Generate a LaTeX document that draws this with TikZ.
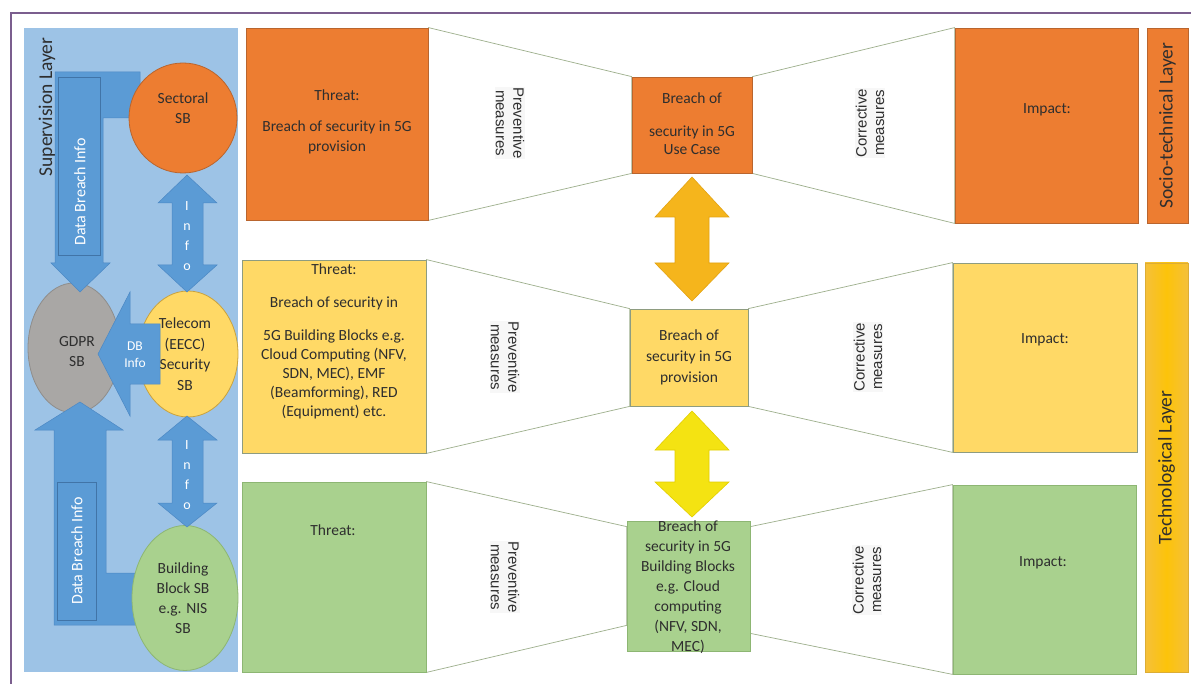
\documentclass[tikz,border=0pt]{standalone}
\usepackage{fontspec}
\setmainfont{Carlito}
\newfontfamily\measfont{Liberation Sans}
\usetikzlibrary{shapes.geometric,fit,calc}
\pgfdeclarelayer{back}
\pgfsetlayers{back,main}
\definecolor{panelB}{HTML}{9DC3E6}
\definecolor{arrowB}{HTML}{5B9BD5}
\definecolor{arrowD}{HTML}{4C88C4}
\definecolor{orangeF}{HTML}{ED7D31}
\definecolor{orangeD}{HTML}{B9652E}
\definecolor{yellowF}{HTML}{FFD966}
\definecolor{yellowD}{HTML}{8E9C80}
\definecolor{telD}{HTML}{C9A23E}
\definecolor{greenF}{HTML}{A9D18E}
\definecolor{greenD}{HTML}{8DB673}
\definecolor{grayF}{HTML}{A9A7A5}
\definecolor{grayD}{HTML}{8F8D8B}
\definecolor{trapC}{HTML}{9DAF8C}
\definecolor{txtC}{HTML}{2E2E2E}
\definecolor{frameC}{HTML}{7B5E8E}
\definecolor{goldF}{HTML}{F5B51C}
\definecolor{goldD}{HTML}{E3A312}
\definecolor{ylwF}{HTML}{F4E312}
\definecolor{ylwD}{HTML}{E2CE00}
\definecolor{techE}{HTML}{F5C03A}
\definecolor{techM}{HTML}{FCC30A}
\tikzset{
  box/.style={line width=0.8pt, inner sep=0pt},
  obox/.style={box, fill=orangeF, draw=orangeD},
  ybox/.style={box, fill=yellowF, draw=yellowD},
  gbox/.style={box, fill=greenF, draw=greenD},
  trap/.style={draw=trapC, line width=0.7pt, fill=white},
  ell/.style={ellipse, inner sep=0pt, line width=0.8pt},
  txt/.style={font=\fontsize{15.5}{20}\selectfont, text=txtC, align=center, inner sep=0pt},
  meas/.style={font=\measfont\fontsize{15}{17.5}\selectfont, text=txtC, align=center, fill=gray!6, inner sep=1pt},
  layer/.style={font=\fontsize{19.5}{22}\selectfont, text=txtC, rotate=90, inner sep=0pt},
  barrow/.style={fill=arrowB, draw=arrowD, line width=0.5pt},
  tbox/.style={fill=arrowB, draw=arrowD!85!black, line width=0.6pt, inner sep=0pt},
  wtxt/.style={text=white, font=\fontsize{16}{20}\selectfont, align=center, inner sep=0pt},
  goldarrow/.style={fill=goldF, draw=goldD, line width=0.6pt},
  ylwarrow/.style={fill=ylwF, draw=ylwD, line width=0.6pt},
}
\begin{document}
\begin{tikzpicture}[x=1pt,y=-1pt]
\useasboundingbox (0,0) rectangle (1191,684);
\begin{pgfonlayer}{back}
\fill[white] (0,0) rectangle (1191,684);
\end{pgfonlayer}
\draw[frameC, line width=1.3pt] (11,684) -- (11,13) -- (1191,13);

% ---------------- supervision layer ----------------
\node[fit={(24,28) (238,672)}, inner sep=0pt, fill=panelB] (panel) {};
\node[layer] (suplabel) at (47,107) {Supervision Layer};

\node[ell, fill=grayF, draw=grayD, minimum width=92pt, minimum height=130pt] (gdpr) at (74,348) {};
\node[ell, fill=yellowF, draw=telD, minimum width=100pt, minimum height=126pt] (telecom) at (188,354) {};

% L-shaped arrows (data breach info)
\draw[barrow] (140,72) -- (55,72) -- (55,263) -- (51,263) -- (80,292) -- (110,263) -- (103,263) -- (103,118) -- (140,118) -- cycle;
\node[tbox, fit={(58,77) (100,255)}] (dbbox1) {};
\node[wtxt, rotate=90] (dbi1) at (80,192) {Data Breach Info};

\draw[barrow] (140,573) -- (106,573) -- (106,430) -- (123,430) -- (80,402) -- (35,430) -- (54,430) -- (54,625) -- (140,625) -- cycle;
\node[tbox, fit={(57,482) (96,620)}] (dbbox2) {};
\node[wtxt, rotate=90] (dbi2) at (77,551) {Data Breach Info};

\node[ell, fill=orangeF, draw=orangeD, minimum width=108pt, minimum height=110pt] (sectoral) at (183,118) {};
\node[ell, fill=greenF, draw=greenD, minimum width=106pt, minimum height=145pt] (building) at (185,598) {};

% Info double arrows
\draw[barrow] (187,175) -- (217,203) -- (203,203) -- (203,265) -- (217,265) -- (187,292) -- (158,265) -- (172,265) -- (172,203) -- (158,203) -- cycle;
\node[wtxt, font=\fontsize{14}{20}\selectfont] (info1) at (187,236) {I\\n\\f\\o};
\draw[barrow] (187,416) -- (217,440) -- (203,440) -- (203,503) -- (217,503) -- (187,527) -- (158,503) -- (172,503) -- (172,440) -- (158,440) -- cycle;
\node[wtxt, font=\fontsize{14}{20}\selectfont] (info2) at (187,475) {I\\n\\f\\o};

% DB Info arrow
\draw[barrow] (98,354) -- (130,292) -- (130,324) -- (160,324) -- (160,384) -- (130,384) -- (130,416) -- cycle;
\node[wtxt, font=\fontsize{13.5}{17}\selectfont] (dbinfo) at (135,355) {DB\\Info};

% ellipse texts
\node[txt] (sectoralt) at (183,108) {Sectoral\\SB};
\node[txt] (gdprt) at (77,352) {GDPR\\SB};
\node[txt, font=\fontsize{15.5}{20.5}\selectfont] (telecomt) at (185,354) {Telecom\\(EECC)\\Security\\SB};
\node[txt] (buildingt) at (183,598) {Building\\Block SB\\e.g. NIS\\SB};

% ---------------- bow-tie rows ----------------
\node[obox, fit={(246,28) (428,220)}] (threat1) {};
\node[obox, fit={(632,77) (752,173)}] (mid1) {};
\node[obox, fit={(955,28) (1138,223)}] (impact1) {};

\node[ybox, fit={(242,260) (426,453)}] (threat2) {};
\node[ybox, fit={(630,309) (748,406)}] (mid2) {};
\node[ybox, fit={(953,263) (1137,452)}] (impact2) {};

\node[gbox, fit={(242,482) (426,672)}] (threat3) {};
\node[gbox, fit={(627,521) (750,651)}] (mid3) {};
\node[gbox, fit={(953,485) (1136,674)}] (impact3) {};

% trapezoids, behind the boxes
\begin{pgfonlayer}{back}
\draw[trap] (threat1.north east) -- (mid1.north west) -- (mid1.south west) -- (threat1.south east) -- cycle;
\draw[trap] (mid1.north east) -- (impact1.north west) -- (impact1.south west) -- (mid1.south east) -- cycle;
\draw[trap] (threat2.north east) -- (mid2.north west) -- (mid2.south west) -- (threat2.south east) -- cycle;
\draw[trap] (mid2.north east) -- (impact2.north west) -- (impact2.south west) -- (mid2.south east) -- cycle;
\draw[trap] (threat3.north east) -- ([yshift=-6pt]mid3.north west) -- ([yshift=26pt]mid3.south west) -- (threat3.south east) -- cycle;
\draw[trap] ([yshift=-6pt]mid3.north east) -- (impact3.north west) -- (impact3.south west) -- ([yshift=18pt]mid3.south east) -- cycle;
\end{pgfonlayer}

% layer labels
\node[obox, fit={(1147,28) (1188,223)}] (socio) {};
\node[layer] (sociot) at (socio.center) {Socio-technical Layer};
\node[box, draw=techE!90!black, left color=techE, right color=techE, middle color=techM, fit={(1145,263) (1188,672)}] (tech) {};
\node[layer] (techt) at (tech.center) {Technological Layer};

% double arrows between rows
\draw[goldarrow] (692,177) -- (729,217) -- (709,217) -- (709,263) -- (729,263) -- (692,301) -- (655,263) -- (675,263) -- (675,217) -- (655,217) -- cycle;
\draw[ylwarrow] (692,411) -- (729,450) -- (709,450) -- (709,482) -- (729,482) -- (692,517) -- (655,482) -- (675,482) -- (675,450) -- (655,450) -- cycle;

% texts row 1
\node[txt] (threat1t) at (337,122) {Threat:\\[11pt]Breach of security in 5G\\provision};
\node[txt, font=\fontsize{15.5}{18}\selectfont] (mid1t) at (692,124) {Breach of\\[15pt]security in 5G\\Use Case};
\node[txt] (impact1t) at (1047,110) {Impact:};
\node[meas, rotate=-90] (prev1) at (510,123) {Preventive\\measures};
\node[meas, rotate=90] (corr1) at (870,123) {Corrective\\measures};

% texts row 2
\node[txt, font=\fontsize{15.5}{19}\selectfont] (threat2t) at (334,341) {Threat:\\[14pt]Breach of security in\\[14pt]5G Building Blocks e.g.\\Cloud Computing (NFV,\\SDN, MEC), EMF\\(Beamforming), RED\\(Equipment) etc.};
\node[txt, font=\fontsize{15.5}{21}\selectfont] (mid2t) at (689,357) {Breach of\\security in 5G\\provision};
\node[txt] (impact2t) at (1045,340) {Impact:};
\node[meas, rotate=-90] (prev2) at (505,357) {Preventive\\measures};
\node[meas, rotate=90] (corr2) at (868,357) {Corrective\\measures};

% texts row 3
\node[txt] (threat3t) at (333,530) {Threat:};
\node[txt] (mid3t) at (688,587) {Breach of\\security in 5G\\Building Blocks\\e.g. Cloud\\computing\\(NFV, SDN,\\MEC)};
\node[txt] (impact3t) at (1043,563) {Impact:};
\node[meas, rotate=-90] (prev3) at (505,577) {Preventive\\measures};
\node[meas, rotate=90] (corr3) at (867,580) {Corrective\\measures};
\end{tikzpicture}
\end{document}
